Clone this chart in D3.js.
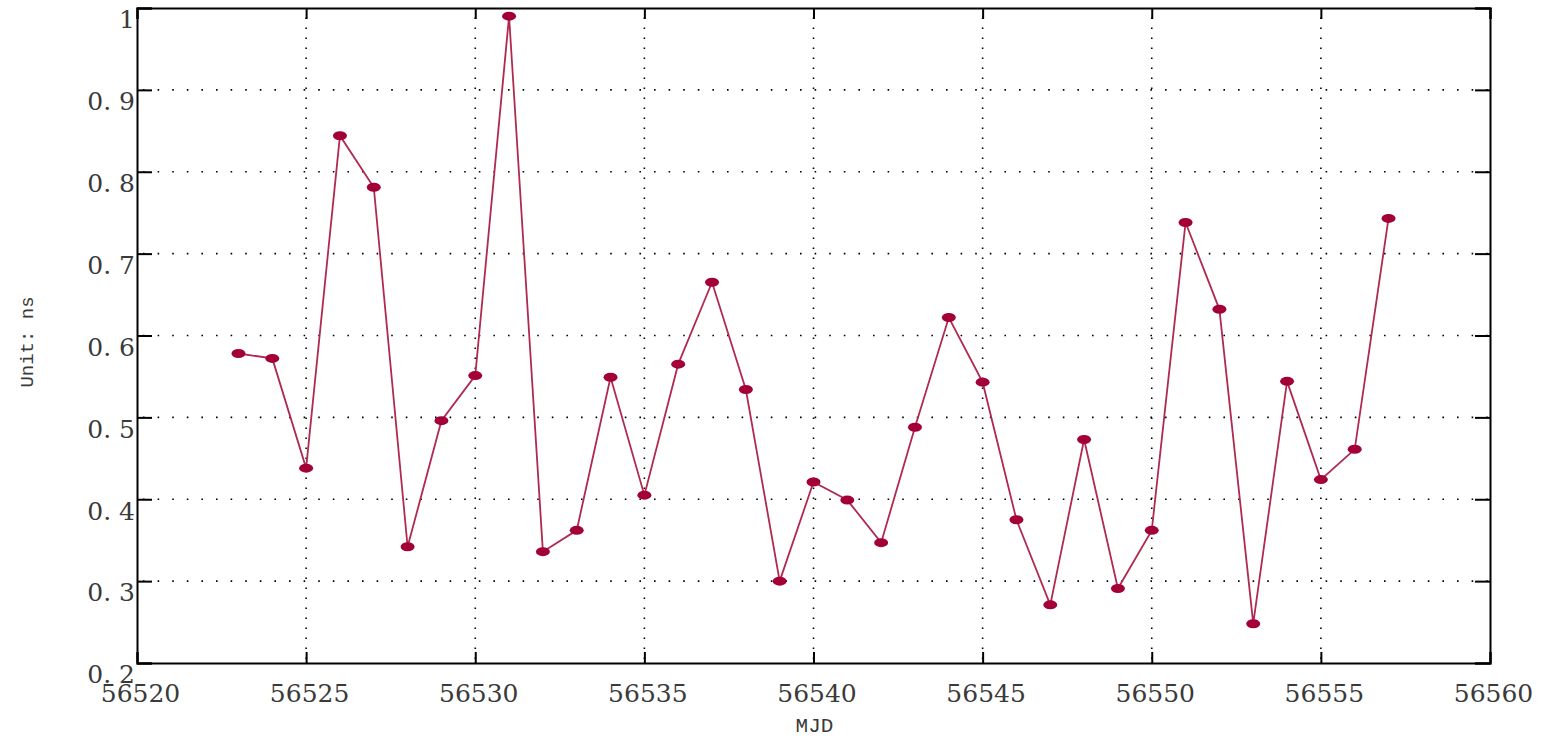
<!DOCTYPE html>
<html><head><meta charset="utf-8">
<script src="https://cdn.jsdelivr.net/npm/d3@7"></script>
<style>
body{margin:0;background:#fff;}
svg{display:block;}
</style></head>
<body>
<script>
const mjd = [56523,56524,56525,56526,56527,56528,56529,56530,56531,56532,56533,56534,56535,56536,56537,56538,56539,56540,56541,56542,56543,56544,56545,56546,56547,56548,56549,56550,56551,56552,56553,56554,56555,56556,56557];
const values = [0.578,0.572,0.438,0.844,0.781,0.342,0.496,0.551,0.990,0.336,0.362,0.549,0.405,0.565,0.665,0.534,0.300,0.421,0.399,0.347,0.488,0.622,0.543,0.375,0.271,0.473,0.291,0.362,0.738,0.632,0.248,0.544,0.424,0.461,0.743];
const xTicks = [56520,56525,56530,56535,56540,56545,56550,56555,56560];
const yTicks = [0.2,0.3,0.4,0.5,0.6,0.7,0.8,0.9,1.0];
const yTickLabels = ["0. 2","0. 3","0. 4","0. 5","0. 6","0. 7","0. 8","0. 9","1"];
const xTitle = "MJD";
const yTitle = "Unit: ns";

const W = 1547, H = 737;
const m = {left:137, right:W-1490, top:8, bottom:H-663};
const svg = d3.select("body").append("svg").attr("width",W).attr("height",H);
const x = d3.scaleLinear().domain([56520,56560]).range([m.left, W-m.right]);
const y = d3.scaleLinear().domain([0.2,1.0]).range([H-m.bottom, m.top]);
const font = "'DejaVu Serif', serif";
const tc = "#3a3a3a";

// grid
const g = svg.append("g");
g.selectAll(".hg").data(yTicks.slice(1,-1)).join("line")
  .attr("x1",x(56520)).attr("x2",x(56560)).attr("y1",d=>y(d)).attr("y2",d=>y(d))
  .attr("stroke","#000").attr("stroke-width",1.6).attr("stroke-dasharray","1.6,13").attr("stroke-dashoffset",-6);
g.selectAll(".vg").data(xTicks.slice(1,-1)).join("line")
  .attr("x1",d=>x(d)).attr("x2",d=>x(d)).attr("y1",y(0.2)).attr("y2",y(1.0))
  .attr("stroke","#000").attr("stroke-width",1.6).attr("stroke-dasharray","1.6,8.4").attr("stroke-dashoffset",-4);

// axes with inward ticks
const axB = d3.axisBottom(x).tickValues(xTicks).tickSize(-11).tickFormat(d3.format("d"));
const axT = d3.axisTop(x).tickValues(xTicks).tickSize(-11).tickFormat("");
const axL = d3.axisLeft(y).tickValues(yTicks).tickSize(-15).tickFormat((d,i)=>yTickLabels[i]);
const axR = d3.axisRight(y).tickValues(yTicks).tickSize(-15).tickFormat("");
function style(sel){
  sel.select(".domain").attr("stroke","#000").attr("stroke-width",2);
  sel.selectAll(".tick line").attr("stroke","#000").attr("stroke-width",2);
  sel.selectAll("text").attr("font-family",font).attr("font-size",25).attr("fill",tc);
}
svg.append("g").attr("transform",`translate(0,${y(0.2)})`).call(axB).call(style)
  .call(s=>s.selectAll("text").attr("dy",0).attr("y",39).attr("dx",3));
svg.append("g").attr("transform",`translate(0,${y(1.0)})`).call(axT).call(style);
svg.append("g").attr("transform",`translate(${x(56520)},0)`).call(axL).call(style)
  .call(s=>s.selectAll("text").attr("x",-2).attr("dy","0.75em").attr("y",1));
svg.append("g").attr("transform",`translate(${x(56560)},0)`).call(axR).call(style);

// line
const line = d3.line().x((d,i)=>x(mjd[i])).y(d=>y(d));
svg.append("path").datum(values).attr("d",line).attr("fill","none")
  .attr("stroke","#b02a50").attr("stroke-width",1.8);
svg.selectAll(".pt").data(values).join("ellipse")
  .attr("cx",(d,i)=>x(mjd[i])).attr("cy",d=>y(d)).attr("rx",7).attr("ry",4.5)
  .attr("fill","#a3003a");

// titles
svg.append("text").attr("x",(x(56520)+x(56560))/2+1).attr("y",732).attr("text-anchor","middle")
  .attr("font-family","'Liberation Mono', monospace").attr("font-size",21).attr("fill",tc).text(xTitle);
svg.append("text").attr("transform",`translate(33,342) rotate(-90)`).attr("text-anchor","middle")
  .attr("font-family","'Liberation Mono', monospace").attr("font-size",19).attr("fill",tc).text(yTitle);
</script>
</body></html>
